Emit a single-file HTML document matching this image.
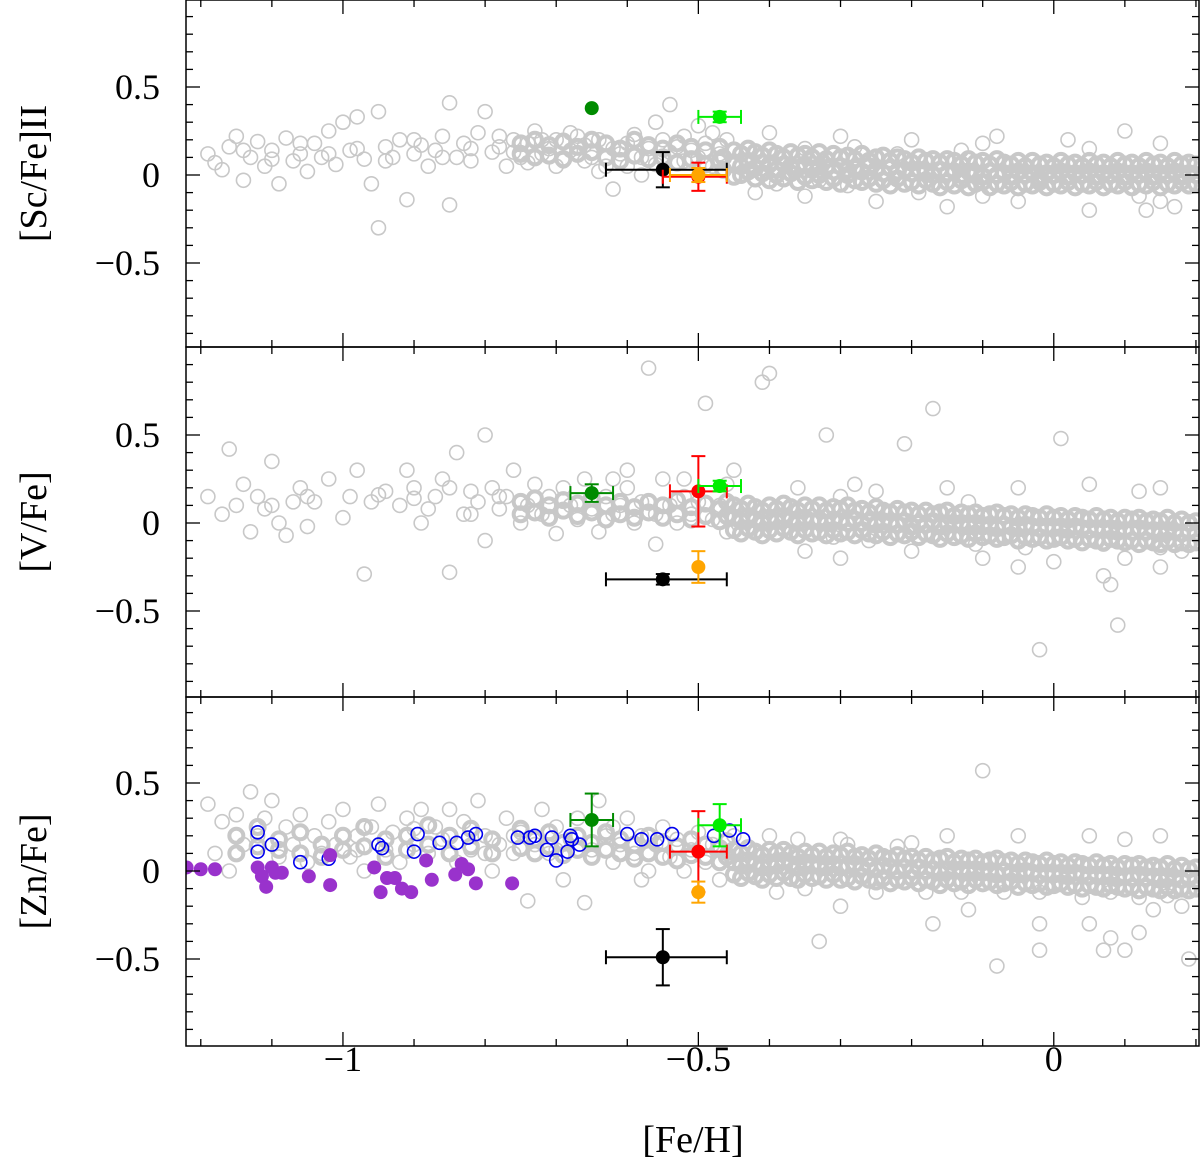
<!DOCTYPE html>
<html><head><meta charset="utf-8"><style>
html,body{margin:0;padding:0;background:#fff;}
svg{display:block;font-family:"Liberation Serif",serif;}
</style></head><body>
<svg id="chart" width="1200" height="1161" viewBox="0 0 1200 1161" xmlns="http://www.w3.org/2000/svg"></svg>
<script>
// ---- data ----
const xTicksMajor = [-1, -0.5, 0];
const xTickLabels = ["\u22121", "\u22120.5", "0"];
const yTicksMajor = [-0.5, 0, 0.5];
const yTickLabels = ["\u22120.5", "0", "0.5"];
const panelTitles = ["[Sc/Fe]II", "[V/Fe]", "[Zn/Fe]"];

const scGray = [[-1.19,0.12],[-1.17,0.03],[-1.16,0.16],[-1.15,0.22],[-1.14,-0.03],[-1.13,0.1],[-1.12,0.19],[-1.11,0.05],[-1.1,0.14],[-1.09,-0.05],[-1.08,0.21],[-1.07,0.08],[-1.06,0.12],[-1.05,0.02],[-1.04,0.18],[-1.03,0.1],[-1.02,0.25],[-1.01,0.06],[-1.0,0.3],[-0.99,0.14],[-0.98,0.33],[-0.97,0.09],[-0.96,-0.05],[-0.95,-0.3],[-0.95,0.36],[-0.94,0.16],[-0.93,0.1],[-0.92,0.2],[-0.91,-0.14],[-0.9,0.12],[-0.89,0.17],[-0.88,0.05],[-0.87,0.14],[-0.86,0.22],[-0.85,0.41],[-0.85,-0.17],[-0.84,0.1],[-0.83,0.18],[-0.82,0.08],[-0.81,0.24],[-0.8,0.36],[-0.79,0.13],[-0.78,0.16],[-0.77,0.05],[-0.76,0.2],[-0.75,0.1],[-0.74,0.18],[-0.73,0.25],[-0.72,0.12],[-0.71,0.15],[-0.7,0.2],[-0.69,0.08],[-0.68,0.14],[-0.67,0.22],[-0.66,0.17],[-0.65,0.1],[-0.64,0.2],[-0.63,0.05],[-0.62,0.15],[-0.61,0.12],[-0.6,0.18],[-0.59,0.23],[-0.58,0.1],[-0.57,0.15],[-0.56,0.3],[-0.55,0.2],[-0.54,0.13],[-0.53,0.16],[-0.52,0.08],[-0.51,0.14],[-0.5,0.1],[-0.49,0.18],[-0.48,0.05],[-0.47,0.12],[-0.46,0.2],[-0.45,0.08],[-0.39,-0.05],[-0.35,0.15],[-0.33,-0.03],[-0.3,0.22],[-0.29,-0.06],[-0.28,0.16],[-0.25,-0.15],[-0.22,0.12],[-0.19,-0.1],[-0.2,0.2],[-0.15,-0.18],[-0.13,0.14],[-0.1,-0.12],[-0.1,0.18],[-0.05,-0.15],[0.05,0.15],[0.05,-0.2],[0.1,0.25],[0.13,-0.2],[0.15,0.18],[0.15,-0.15],[0.12,-0.12],[-0.35,-0.12],[-0.6,0.05],[-0.7,0.05],[-0.58,0.0],[-0.54,0.4],[-0.5,0.28],[-0.62,-0.08],[-0.66,0.08],[-0.72,0.2],[-0.76,0.13],[-0.68,0.24],[-0.52,0.22],[-0.48,0.24],[-0.56,0.06],[-0.64,0.02],[-0.74,0.07],[-0.78,0.22],[-0.82,0.15],[-0.86,0.1],[-0.9,0.2],[-0.94,0.08],[-0.98,0.15],[-1.02,0.12],[-1.06,0.18],[-1.1,0.09],[-1.14,0.14],[-1.18,0.07],[0.02,0.2],[-0.08,0.22],[0.17,-0.18],[-0.4,0.24],[-0.42,-0.1]];
// dense core rows: [x, y values...]
const scCore = [[-0.45,0.14,0.06,-0.01],[-0.44,0.12,0.05,0.0],[-0.43,0.15,0.08,0.02],[-0.42,0.13,0.04,-0.02],[-0.41,0.11,0.07,0.01],[-0.40,0.14,0.06,-0.03],[-0.39,0.12,0.03,0.0],[-0.38,0.10,0.06,-0.02],[-0.37,0.13,0.05,0.01],[-0.36,0.11,0.04,-0.04],[-0.35,0.12,0.06,-0.01],[-0.34,0.10,0.03,-0.03],[-0.33,0.13,0.05,0.0],[-0.32,0.09,0.04,-0.04],[-0.31,0.12,0.02,-0.02],[-0.30,0.10,0.05,-0.05],[-0.29,0.11,0.03,0.0],[-0.28,0.09,0.04,-0.03],[-0.27,0.12,0.02,-0.04],[-0.26,0.08,0.05,-0.02],[-0.25,0.10,0.03,-0.05],[-0.24,0.11,0.01,-0.03],[-0.23,0.08,0.04,-0.06],[-0.22,0.10,0.02,-0.02],[-0.21,0.09,0.03,-0.05],[-0.20,0.07,0.01,-0.04],[-0.19,0.10,0.03,-0.06],[-0.18,0.08,0.02,-0.03],[-0.17,0.09,0.0,-0.05],[-0.16,0.07,0.03,-0.07],[-0.15,0.09,0.01,-0.04],[-0.14,0.08,0.02,-0.06],[-0.13,0.06,0.0,-0.03],[-0.12,0.09,0.02,-0.07],[-0.11,0.07,0.01,-0.05],[-0.10,0.08,-0.01,-0.04],[-0.09,0.06,0.02,-0.07],[-0.08,0.09,0.0,-0.05],[-0.07,0.07,0.01,-0.06],[-0.06,0.06,-0.01,-0.04],[-0.05,0.08,0.02,-0.07],[-0.04,0.05,0.0,-0.05],[-0.03,0.08,0.01,-0.06],[-0.02,0.06,-0.02,-0.04],[-0.01,0.07,0.01,-0.07],[0.0,0.05,0.0,-0.05],[0.01,0.08,0.02,-0.06],[0.02,0.06,-0.01,-0.04],[0.03,0.07,0.01,-0.07],[0.04,0.05,0.0,-0.05],[0.05,0.08,0.02,-0.06],[0.06,0.06,-0.01,-0.04],[0.07,0.07,0.01,-0.07],[0.08,0.05,0.0,-0.05],[0.09,0.08,0.02,-0.06],[0.10,0.06,-0.01,-0.04],[0.11,0.07,0.01,-0.07],[0.12,0.05,0.0,-0.05],[0.13,0.08,0.02,-0.06],[0.14,0.06,-0.01,-0.04],[0.15,0.07,0.01,-0.07],[0.16,0.05,0.0,-0.05],[0.17,0.08,0.02,-0.06],[0.18,0.06,-0.01,-0.04],[0.19,0.07,0.01,-0.06],[0.2,0.06,0.0,-0.05],
[-0.75,0.18,0.12],[-0.73,0.2,0.1],[-0.71,0.17,0.11],[-0.69,0.19,0.09],[-0.67,0.16,0.12],[-0.65,0.2,0.13],[-0.63,0.18,0.1],[-0.61,0.15,0.08],[-0.59,0.2,0.11],[-0.57,0.17,0.09],[-0.55,0.15,0.1],[-0.53,0.18,0.07],[-0.51,0.16,0.09],[-0.49,0.14,0.06],[-0.47,0.16,0.08],[-0.465,0.1,0.03]];

const vGray = [[-1.19,0.15],[-1.17,0.05],[-1.16,0.42],[-1.15,0.1],[-1.14,0.22],[-1.13,-0.05],[-1.12,0.15],[-1.11,0.08],[-1.1,0.35],[-1.09,0.0],[-1.08,-0.07],[-1.07,0.12],[-1.06,0.2],[-1.05,-0.02],[-1.04,0.12],[-1.02,0.25],[-1.0,0.03],[-0.99,0.15],[-0.98,0.3],[-0.97,-0.29],[-0.96,0.12],[-0.94,0.18],[-0.92,0.1],[-0.91,0.3],[-0.9,0.2],[-0.89,0.0],[-0.88,0.08],[-0.87,0.15],[-0.86,0.25],[-0.85,-0.28],[-0.84,0.4],[-0.83,0.05],[-0.82,0.18],[-0.81,0.12],[-0.8,0.5],[-0.8,-0.1],[-0.79,0.2],[-0.78,0.08],[-0.77,0.15],[-0.76,0.3],[-0.75,0.0],[-0.74,0.1],[-0.73,0.22],[-0.72,0.05],[-0.71,0.15],[-0.7,-0.06],[-0.69,0.2],[-0.68,0.1],[-0.67,0.02],[-0.66,0.25],[-0.65,0.08],[-0.64,-0.05],[-0.63,0.15],[-0.62,0.05],[-0.61,0.1],[-0.6,0.2],[-0.59,0.0],[-0.58,0.12],[-0.57,0.88],[-0.56,0.05],[-0.55,0.25],[-0.54,0.1],[-0.53,0.0],[-0.52,0.15],[-0.51,0.05],[-0.5,0.12],[-0.49,0.68],[-0.48,0.02],[-0.47,0.1],[-0.46,-0.05],[-0.45,0.3],[-0.41,0.8],[-0.4,0.85],[-0.36,0.2],[-0.32,0.5],[-0.31,-0.08],[-0.26,-0.1],[-0.21,0.45],[-0.19,-0.08],[-0.17,0.65],[-0.12,0.12],[-0.11,-0.12],[-0.04,-0.14],[0.01,0.48],[0.07,-0.12],[0.09,-0.58],[0.15,-0.14],[-0.3,0.15],[-0.25,0.18],[-0.15,0.2],[-0.05,0.2],[0.05,0.22],[0.15,0.2],[-0.1,-0.2],[0.0,-0.22],[0.1,-0.2],[0.15,-0.25],[0.08,-0.35],[0.07,-0.3],[-0.05,-0.25],[-0.02,-0.72],[-0.3,-0.2],[-0.56,-0.12],[-0.6,0.3],[-0.62,0.25],[-0.52,0.25],[-0.46,0.22],[-0.2,-0.16],[0.18,-0.16],[-0.35,-0.16],[0.12,0.18],[-0.28,0.22],[-0.85,0.2],[-0.9,0.14],[-0.95,0.16],[-1.05,0.15],[-1.1,0.1],[-0.82,0.05],[-0.78,0.15]];
const vCore = [[-0.45,0.1,0.03,-0.04],[-0.44,0.08,0.01,-0.06],[-0.43,0.11,0.04,-0.03],[-0.42,0.09,0.02,-0.05],[-0.41,0.07,0.0,-0.07],[-0.40,0.1,0.03,-0.04],[-0.39,0.08,0.01,-0.06],[-0.38,0.11,0.04,-0.03],[-0.37,0.09,0.02,-0.05],[-0.36,0.07,0.0,-0.07],[-0.35,0.1,0.03,-0.04],[-0.34,0.08,0.01,-0.06],[-0.33,0.1,0.02,-0.05],[-0.32,0.07,0.0,-0.07],[-0.31,0.09,0.02,-0.04],[-0.30,0.08,0.01,-0.06],[-0.29,0.1,0.0,-0.05],[-0.28,0.07,0.02,-0.07],[-0.27,0.08,0.0,-0.04],[-0.26,0.06,0.01,-0.06],[-0.25,0.09,-0.01,-0.07],[-0.24,0.07,0.01,-0.05],[-0.23,0.06,0.0,-0.08],[-0.22,0.08,-0.01,-0.06],[-0.21,0.06,0.01,-0.07],[-0.20,0.07,-0.02,-0.05],[-0.19,0.05,0.0,-0.08],[-0.18,0.07,-0.01,-0.06],[-0.17,0.05,0.01,-0.07],[-0.16,0.06,-0.02,-0.09],[-0.15,0.07,0.0,-0.06],[-0.14,0.04,-0.01,-0.08],[-0.13,0.06,0.0,-0.07],[-0.12,0.05,-0.02,-0.09],[-0.11,0.06,0.0,-0.06],[-0.10,0.04,-0.02,-0.08],[-0.09,0.05,-0.01,-0.07],[-0.08,0.06,-0.03,-0.09],[-0.07,0.04,-0.01,-0.08],[-0.06,0.05,-0.02,-0.07],[-0.05,0.03,-0.03,-0.1],[-0.04,0.05,-0.01,-0.08],[-0.03,0.04,-0.02,-0.09],[-0.02,0.03,-0.03,-0.08],[-0.01,0.05,-0.02,-0.1],[0.0,0.03,-0.03,-0.09],[0.01,0.04,-0.02,-0.08],[0.02,0.02,-0.04,-0.1],[0.03,0.04,-0.02,-0.09],[0.04,0.03,-0.03,-0.11],[0.05,0.02,-0.04,-0.09],[0.06,0.04,-0.03,-0.1],[0.07,0.02,-0.04,-0.11],[0.08,0.03,-0.03,-0.09],[0.09,0.01,-0.05,-0.1],[0.10,0.03,-0.04,-0.11],[0.11,0.02,-0.05,-0.1],[0.12,0.03,-0.03,-0.12],[0.13,0.01,-0.05,-0.1],[0.14,0.02,-0.04,-0.11],[0.15,0.01,-0.06,-0.12],[0.16,0.03,-0.04,-0.1],[0.17,0.0,-0.05,-0.12],[0.18,0.02,-0.06,-0.11],[0.19,0.0,-0.05,-0.12],[0.2,0.01,-0.06,-0.11],
[-0.75,0.12,0.05],[-0.73,0.14,0.06],[-0.71,0.1,0.03],[-0.69,0.13,0.07],[-0.67,0.11,0.04],[-0.65,0.14,0.06],[-0.63,0.1,0.02],[-0.61,0.12,0.05],[-0.59,0.09,0.03],[-0.57,0.12,0.06],[-0.55,0.1,0.03],[-0.53,0.13,0.05],[-0.51,0.09,0.02],[-0.49,0.11,0.04],[-0.47,0.08,0.01],[-0.46,0.12,0.04]];

const znGray = [[-1.19,0.38],[-1.18,0.1],[-1.17,0.28],[-1.16,0.0],[-1.15,0.32],[-1.14,0.15],[-1.13,0.45],[-1.12,0.2],[-1.11,0.3],[-1.1,0.4],[-1.09,0.08],[-1.08,0.25],[-1.07,0.15],[-1.06,0.32],[-1.05,0.05],[-1.04,0.2],[-1.03,0.1],[-1.02,0.28],[-1.01,0.15],[-1.0,0.35],[-0.99,0.08],[-0.98,0.2],[-0.97,0.0],[-0.96,0.25],[-0.95,0.38],[-0.94,0.12],[-0.93,0.22],[-0.92,0.05],[-0.91,0.3],[-0.9,0.15],[-0.89,0.35],[-0.88,0.1],[-0.87,0.25],[-0.86,0.18],[-0.85,0.35],[-0.84,0.05],[-0.83,0.28],[-0.82,0.12],[-0.81,0.4],[-0.8,0.2],[-0.79,0.0],[-0.78,0.15],[-0.77,0.3],[-0.76,0.1],[-0.75,0.22],[-0.74,-0.17],[-0.73,0.15],[-0.72,0.35],[-0.71,0.1],[-0.7,0.25],[-0.69,-0.05],[-0.68,0.18],[-0.67,0.3],[-0.66,-0.18],[-0.65,0.12],[-0.64,0.4],[-0.63,0.2],[-0.62,0.05],[-0.61,0.15],[-0.6,0.3],[-0.59,0.1],[-0.58,0.2],[-0.57,0.0],[-0.56,0.15],[-0.55,0.25],[-0.54,0.08],[-0.53,0.18],[-0.52,0.0],[-0.51,0.12],[-0.5,0.22],[-0.49,0.05],[-0.48,0.15],[-0.47,-0.05],[-0.46,0.1],[-0.45,0.2],[-0.39,-0.12],[-0.36,0.18],[-0.35,-0.1],[-0.33,-0.4],[-0.29,0.15],[-0.25,-0.12],[-0.22,0.14],[-0.18,-0.12],[-0.13,-0.12],[-0.07,-0.12],[-0.02,-0.12],[0.04,-0.15],[0.08,-0.12],[0.12,-0.15],[0.16,-0.14],[-0.05,0.2],[0.05,0.2],[-0.15,0.2],[0.15,0.2],[-0.02,-0.3],[-0.02,-0.45],[0.05,-0.3],[0.08,-0.38],[0.1,-0.45],[0.12,-0.35],[0.07,-0.45],[0.14,-0.22],[-0.12,-0.22],[-0.17,-0.3],[-0.1,0.57],[-0.08,-0.54],[-0.3,-0.2],[0.18,-0.2],[0.19,-0.5],[-0.58,-0.05],[-0.62,0.25],[-0.7,0.12],[-0.4,0.2],[-0.3,0.18],[-0.2,0.16],[0.1,0.18],[-0.98,0.12],[-0.9,0.24],[-0.8,0.1],[-0.76,0.2]];
const znCore = [[-0.45,0.12,0.05,-0.02],[-0.44,0.1,0.03,-0.04],[-0.43,0.13,0.06,-0.01],[-0.42,0.11,0.04,-0.03],[-0.41,0.09,0.02,-0.05],[-0.40,0.12,0.05,-0.02],[-0.39,0.1,0.03,-0.04],[-0.38,0.12,0.06,-0.01],[-0.37,0.1,0.04,-0.04],[-0.36,0.08,0.02,-0.05],[-0.35,0.11,0.05,-0.02],[-0.34,0.09,0.03,-0.04],[-0.33,0.11,0.04,-0.03],[-0.32,0.08,0.02,-0.05],[-0.31,0.1,0.04,-0.02],[-0.30,0.09,0.02,-0.05],[-0.29,0.11,0.03,-0.04],[-0.28,0.08,0.04,-0.06],[-0.27,0.09,0.02,-0.03],[-0.26,0.07,0.03,-0.05],[-0.25,0.1,0.01,-0.06],[-0.24,0.08,0.03,-0.04],[-0.23,0.07,0.02,-0.07],[-0.22,0.09,0.0,-0.05],[-0.21,0.07,0.02,-0.06],[-0.20,0.08,0.0,-0.04],[-0.19,0.06,0.02,-0.07],[-0.18,0.08,0.0,-0.05],[-0.17,0.06,0.01,-0.06],[-0.16,0.07,-0.01,-0.08],[-0.15,0.08,0.01,-0.05],[-0.14,0.05,0.0,-0.07],[-0.13,0.07,0.01,-0.06],[-0.12,0.06,-0.01,-0.08],[-0.11,0.07,0.01,-0.05],[-0.10,0.05,-0.01,-0.07],[-0.09,0.06,0.0,-0.06],[-0.08,0.07,-0.02,-0.08],[-0.07,0.05,0.0,-0.07],[-0.06,0.06,-0.01,-0.06],[-0.05,0.04,-0.02,-0.09],[-0.04,0.06,0.0,-0.07],[-0.03,0.05,-0.01,-0.08],[-0.02,0.04,-0.02,-0.07],[-0.01,0.06,-0.01,-0.09],[0.0,0.04,-0.02,-0.08],[0.01,0.05,-0.01,-0.07],[0.02,0.03,-0.03,-0.09],[0.03,0.05,-0.01,-0.08],[0.04,0.04,-0.02,-0.1],[0.05,0.03,-0.03,-0.08],[0.06,0.05,-0.02,-0.09],[0.07,0.03,-0.03,-0.1],[0.08,0.04,-0.02,-0.08],[0.09,0.02,-0.04,-0.09],[0.10,0.04,-0.03,-0.1],[0.11,0.03,-0.04,-0.09],[0.12,0.04,-0.02,-0.11],[0.13,0.02,-0.04,-0.09],[0.14,0.03,-0.03,-0.1],[0.15,0.02,-0.05,-0.11],[0.16,0.04,-0.03,-0.09],[0.17,0.01,-0.04,-0.11],[0.18,0.03,-0.05,-0.1],[0.19,0.01,-0.04,-0.11],[0.2,0.02,-0.05,-0.1],
[-1.15,0.2,0.1],[-1.12,0.25,0.14],[-1.09,0.18,0.12],[-1.06,0.22,0.1],[-1.03,0.15,0.08],[-1.0,0.2,0.12],[-0.97,0.25,0.14],[-0.94,0.18,0.08],[-0.91,0.2,0.12],[-0.88,0.26,0.15],[-0.85,0.2,0.1],[-0.82,0.24,0.14],[-0.79,0.18,0.1],[-0.75,0.24,0.13],[-0.73,0.18,0.1],[-0.71,0.22,0.14],[-0.69,0.16,0.09],[-0.67,0.2,0.12],[-0.65,0.16,0.08],[-0.63,0.22,0.12],[-0.61,0.18,0.1],[-0.59,0.15,0.07],[-0.57,0.2,0.1],[-0.55,0.16,0.08],[-0.53,0.14,0.06],[-0.51,0.18,0.09],[-0.49,0.15,0.08],[-0.47,0.13,0.05],[-0.46,0.17,0.08]];

const blueOpen = [[-1.12,0.22],[-1.12,0.11],[-1.10,0.15],[-1.06,0.05],[-1.02,0.07],[-0.95,0.15],[-0.945,0.13],[-0.90,0.11],[-0.895,0.21],[-0.864,0.16],[-0.84,0.16],[-0.824,0.19],[-0.813,0.21],[-0.754,0.19],[-0.737,0.19],[-0.73,0.2],[-0.713,0.12],[-0.706,0.19],[-0.70,0.06],[-0.684,0.11],[-0.68,0.2],[-0.678,0.18],[-0.667,0.15],[-0.60,0.21],[-0.58,0.18],[-0.558,0.18],[-0.537,0.21],[-0.478,0.2],[-0.456,0.23],[-0.437,0.18]];
const purpleFilled = [[-1.22,0.02],[-1.2,0.01],[-1.18,0.01],[-1.12,0.02],[-1.114,-0.03],[-1.108,-0.09],[-1.10,0.02],[-1.095,-0.01],[-1.086,-0.01],[-1.048,-0.03],[-1.018,0.09],[-1.018,-0.08],[-0.956,0.02],[-0.947,-0.12],[-0.938,-0.04],[-0.927,-0.04],[-0.917,-0.10],[-0.904,-0.12],[-0.883,0.06],[-0.875,-0.05],[-0.842,-0.02],[-0.833,0.04],[-0.824,0.01],[-0.813,-0.07],[-0.762,-0.07]];

// highlighted stars: [x, y, xerrLo, xerrHi, yerr]  (0 = no error bar); draw order: black, red, orange, green, lime
const starNames = ["black","red","orange","green","lime"];
const starColors = ["#000000","#ff0000","#ffa500","#008b00","#00ee00"];
const scStars = [[-0.55,0.03,0.08,0.09,0.10],[-0.5,-0.01,0.05,0.04,0.08],[-0.5,0.0,0.04,0.04,0.04],[-0.65,0.38,0,0,0],[-0.47,0.33,0.03,0.03,0.03]];
const vStars = [[-0.55,-0.32,0.08,0.09,0.03],[-0.5,0.18,0.04,0.04,0.2],[-0.5,-0.25,0.0,0.0,0.09],[-0.65,0.17,0.03,0.03,0.05],[-0.47,0.21,0.03,0.03,0.03]];
const znStars = [[-0.55,-0.49,0.08,0.09,0.16],[-0.5,0.11,0.04,0.04,0.23],[-0.5,-0.12,0.0,0.0,0.06],[-0.65,0.29,0.03,0.03,0.15],[-0.47,0.26,0.03,0.03,0.12]];

// ---- layout ----
const svg = document.getElementById('chart');
const NS = 'http://www.w3.org/2000/svg';
const L = 186, R = 1199;
const xMin = -1.2208, xMax = 0.2043;
const panels = [{top:0,bottom:347,zero:175},{top:347,bottom:697,zero:523},{top:697,bottom:1046,zero:871}];
const yScaleK = 176;
const xs = v => L + (v - xMin) / (xMax - xMin) * (R - L);
function mk(tag, attrs, parent){ const e=document.createElementNS(NS,tag); for(const k in attrs) e.setAttribute(k,attrs[k]); (parent||svg).appendChild(e); return e; }

const grays = [scGray, vGray, znGray];
const cores = [scCore, vCore, znCore];
const stars = [scStars, vStars, znStars];
const panelKeys = ["sc","v","zn"];

panels.forEach((p, i) => {
  const ys = v => p.zero - v * yScaleK;
  const g = mk('g', {});
  
  
  const clipId = 'clip' + i;
  const cp = mk('clipPath', {id: clipId}, g);
  mk('rect', {x:L, y:p.top, width:R-L, height:p.bottom-p.top}, cp);
  const data = mk('g', {'clip-path':'url(#'+clipId+')'}, g);
  const drawGray = (x, y, sw) => {
    const c = mk('circle', {cx:xs(x), cy:ys(y), r:7, fill:'none', stroke:'#c8c8c8', 'stroke-width':sw}, data);
    
    
  };
  grays[i].forEach(d => drawGray(d[0], d[1], 1.6));
  cores[i].forEach(row => { for (let k = 1; k < row.length; k++) drawGray(row[0], row[k], 4); });
  if (i === 2) {
    blueOpen.forEach(d => {
      const c = mk('circle', {cx:xs(d[0]), cy:ys(d[1]), r:6.5, fill:'none', stroke:'#0000ee', 'stroke-width':1.6}, data);
      
      
    });
    purpleFilled.forEach(d => {
      const c = mk('circle', {cx:xs(d[0]), cy:ys(d[1]), r:7, fill:'#9932cc'}, data);
      
      
    });
  }
  stars[i].forEach((d, k) => {
    const col = starColors[k];
    const sg = mk('g', {stroke:col, 'stroke-width':2, fill:col}, data);
    
    
    const cx = xs(d[0]), cy = ys(d[1]);
    if (d[2] || d[3]) {
      const x1 = xs(d[0]-d[2]), x2 = xs(d[0]+d[3]);
      mk('line', {x1:x1, y1:cy, x2:x2, y2:cy}, sg);
      mk('line', {x1:x1, y1:cy-7, x2:x1, y2:cy+7}, sg);
      mk('line', {x1:x2, y1:cy-7, x2:x2, y2:cy+7}, sg);
    }
    if (d[4]) {
      const y1 = ys(d[1]+d[4]), y2 = ys(d[1]-d[4]);
      mk('line', {x1:cx, y1:y1, x2:cx, y2:y2}, sg);
      mk('line', {x1:cx-7, y1:y1, x2:cx+7, y2:y1}, sg);
      mk('line', {x1:cx-7, y1:y2, x2:cx+7, y2:y2}, sg);
    }
    mk('circle', {cx:cx, cy:cy, r:7, stroke:'none'}, sg);
  });
  const fr = mk('rect', {x:L, y:p.top, width:R-L, height:p.bottom-p.top, fill:'none', stroke:'#000', 'stroke-width':1.5}, g);
  
  
  for (let t = -12; t <= 2; t++) {
    const v = t / 10, x = xs(v);
    const major = (t % 5 === 0);
    const len = major ? 14 : 7;
    mk('line', {x1:x, y1:p.bottom, x2:x, y2:p.bottom-len, stroke:'#000', 'stroke-width':1.3}, g);
    mk('line', {x1:x, y1:p.top, x2:x, y2:p.top+len, stroke:'#000', 'stroke-width':1.3}, g);
  }
  for (let t = -9; t <= 9; t++) {
    const v = t / 10, y = ys(v);
    if (y < p.top + 1 || y > p.bottom - 1) continue;
    const major = (t % 5 === 0);
    const len = major ? 14 : 7;
    mk('line', {x1:L, y1:y, x2:L+len, y2:y, stroke:'#000', 'stroke-width':1.3}, g);
    mk('line', {x1:R, y1:y, x2:R-len, y2:y, stroke:'#000', 'stroke-width':1.3}, g);
  }
  yTicksMajor.forEach((v, k) => {
    const tl = mk('text', {x:160, y:ys(v)+12, 'text-anchor':'end', 'font-size':36, fill:'#000'}, g);
    tl.textContent = yTickLabels[k];
    
    
  });
  const cy = (p.top + p.bottom) / 2;
  const tt = mk('text', {x:46, y:cy, 'text-anchor':'middle', 'font-size':38, fill:'#000', transform:'rotate(-90 46 '+cy+')'}, g);
  tt.textContent = panelTitles[i];
  
  
});

xTicksMajor.forEach((v, k) => {
  const tl = mk('text', {x:xs(v), y:1071, 'text-anchor':'middle', 'font-size':36, fill:'#000'});
  tl.textContent = xTickLabels[k];
  
  
});
const xt = mk('text', {x:693, y:1152, 'text-anchor':'middle', 'font-size':38, fill:'#000'});
xt.textContent = '[Fe/H]';


</script>
</body></html>
